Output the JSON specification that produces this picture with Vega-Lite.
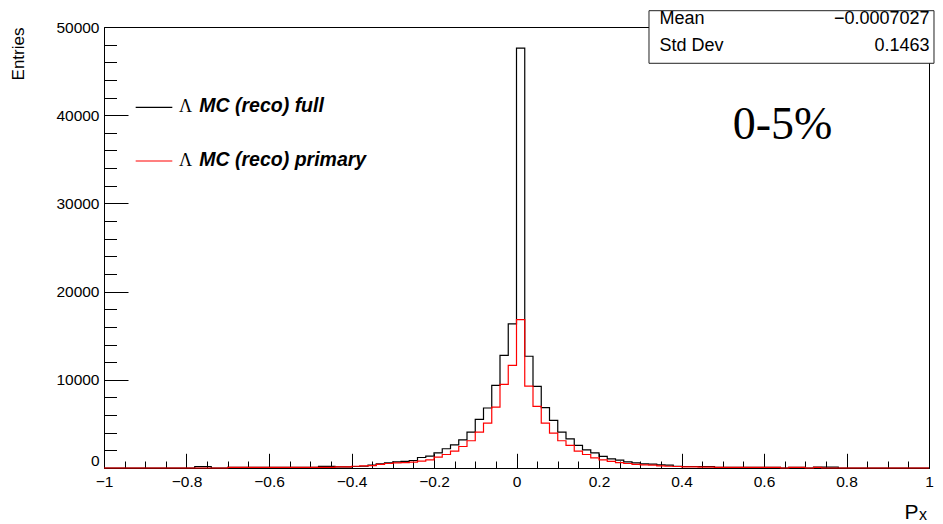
{
  "$schema": "https://vega.github.io/schema/vega-lite/v6.json",
  "width": 825,
  "height": 441,
  "autosize": {"type": "none"},
  "padding": {"left": 104, "top": 27, "right": 14, "bottom": 56},
  "background": "white",
  "config": {
    "view": {"stroke": "black", "strokeWidth": 1},
    "font": "Liberation Sans",
    "axis": {"labelFont": "Liberation Sans", "titleFont": "Liberation Sans", "labelColor": "black", "titleColor": "black", "grid": false, "tickColor": "black", "domainColor": "black", "titleFontWeight": "normal"}
  },
  "datasets": {
    "hist": [
      {"x": -1.00, "full": 0, "primary": 0},
      {"x": -0.98, "full": 0, "primary": 0},
      {"x": -0.96, "full": 0, "primary": 0},
      {"x": -0.94, "full": 0, "primary": 0},
      {"x": -0.92, "full": 0, "primary": 0},
      {"x": -0.90, "full": 0, "primary": 0},
      {"x": -0.88, "full": 0, "primary": 0},
      {"x": -0.86, "full": 0, "primary": 0},
      {"x": -0.84, "full": 0, "primary": 0},
      {"x": -0.82, "full": 0, "primary": 0},
      {"x": -0.80, "full": 0, "primary": 0},
      {"x": -0.78, "full": 150, "primary": 0},
      {"x": -0.76, "full": 150, "primary": 0},
      {"x": -0.74, "full": 0, "primary": 0},
      {"x": -0.72, "full": 0, "primary": 0},
      {"x": -0.70, "full": 80, "primary": 80},
      {"x": -0.68, "full": 80, "primary": 80},
      {"x": -0.66, "full": 80, "primary": 80},
      {"x": -0.64, "full": 80, "primary": 80},
      {"x": -0.62, "full": 80, "primary": 80},
      {"x": -0.60, "full": 80, "primary": 80},
      {"x": -0.58, "full": 80, "primary": 80},
      {"x": -0.56, "full": 80, "primary": 80},
      {"x": -0.54, "full": 80, "primary": 80},
      {"x": -0.52, "full": 80, "primary": 80},
      {"x": -0.50, "full": 80, "primary": 80},
      {"x": -0.48, "full": 180, "primary": 80},
      {"x": -0.46, "full": 180, "primary": 80},
      {"x": -0.44, "full": 130, "primary": 130},
      {"x": -0.42, "full": 130, "primary": 130},
      {"x": -0.40, "full": 170, "primary": 200},
      {"x": -0.38, "full": 200, "primary": 240},
      {"x": -0.36, "full": 320, "primary": 280},
      {"x": -0.34, "full": 470, "primary": 400},
      {"x": -0.32, "full": 590, "primary": 510},
      {"x": -0.30, "full": 700, "primary": 590},
      {"x": -0.28, "full": 740, "primary": 620},
      {"x": -0.26, "full": 850, "primary": 660},
      {"x": -0.24, "full": 1190, "primary": 780},
      {"x": -0.22, "full": 1350, "primary": 930},
      {"x": -0.20, "full": 1720, "primary": 1230},
      {"x": -0.18, "full": 2180, "primary": 1530},
      {"x": -0.16, "full": 2630, "primary": 1910},
      {"x": -0.14, "full": 3200, "primary": 2440},
      {"x": -0.12, "full": 4070, "primary": 3090},
      {"x": -0.10, "full": 5510, "primary": 4070},
      {"x": -0.08, "full": 6800, "primary": 5090},
      {"x": -0.06, "full": 9370, "primary": 6910},
      {"x": -0.04, "full": 12780, "primary": 9490},
      {"x": -0.02, "full": 16340, "primary": 11640},
      {"x": 0.00, "full": 47600, "primary": 16830},
      {"x": 0.02, "full": 12670, "primary": 9290},
      {"x": 0.04, "full": 9260, "primary": 6990},
      {"x": 0.06, "full": 6840, "primary": 5090},
      {"x": 0.08, "full": 5400, "primary": 3950},
      {"x": 0.10, "full": 4070, "primary": 3090},
      {"x": 0.12, "full": 3310, "primary": 2560},
      {"x": 0.14, "full": 2560, "primary": 1910},
      {"x": 0.16, "full": 2060, "primary": 1530},
      {"x": 0.18, "full": 1720, "primary": 1150},
      {"x": 0.20, "full": 1310, "primary": 930},
      {"x": 0.22, "full": 1040, "primary": 740},
      {"x": 0.24, "full": 890, "primary": 620},
      {"x": 0.26, "full": 700, "primary": 510},
      {"x": 0.28, "full": 590, "primary": 400},
      {"x": 0.30, "full": 470, "primary": 360},
      {"x": 0.32, "full": 430, "primary": 320},
      {"x": 0.34, "full": 360, "primary": 240},
      {"x": 0.36, "full": 320, "primary": 200},
      {"x": 0.38, "full": 200, "primary": 170},
      {"x": 0.40, "full": 170, "primary": 130},
      {"x": 0.42, "full": 170, "primary": 130},
      {"x": 0.44, "full": 170, "primary": 100},
      {"x": 0.46, "full": 170, "primary": 100},
      {"x": 0.48, "full": 80, "primary": 80},
      {"x": 0.50, "full": 80, "primary": 80},
      {"x": 0.52, "full": 80, "primary": 80},
      {"x": 0.54, "full": 80, "primary": 80},
      {"x": 0.56, "full": 80, "primary": 80},
      {"x": 0.58, "full": 80, "primary": 80},
      {"x": 0.60, "full": 80, "primary": 80},
      {"x": 0.62, "full": 80, "primary": 80},
      {"x": 0.64, "full": 0, "primary": 0},
      {"x": 0.66, "full": 80, "primary": 80},
      {"x": 0.68, "full": 80, "primary": 80},
      {"x": 0.70, "full": 0, "primary": 0},
      {"x": 0.72, "full": 100, "primary": 60},
      {"x": 0.74, "full": 100, "primary": 0},
      {"x": 0.76, "full": 100, "primary": 0},
      {"x": 0.78, "full": 0, "primary": 0},
      {"x": 0.80, "full": 0, "primary": 0},
      {"x": 0.82, "full": 0, "primary": 0},
      {"x": 0.84, "full": 0, "primary": 0},
      {"x": 0.86, "full": 0, "primary": 0},
      {"x": 0.88, "full": 0, "primary": 0},
      {"x": 0.90, "full": 0, "primary": 0},
      {"x": 0.92, "full": 0, "primary": 0},
      {"x": 0.94, "full": 0, "primary": 0},
      {"x": 0.96, "full": 0, "primary": 0},
      {"x": 0.98, "full": 0, "primary": 0},
      {"x": 1.00, "full": 0, "primary": 0}
    ]
  },
  "resolve": {"axis": {"x": "independent", "y": "independent"}},
  "layer": [
    {
      "data": {"name": "hist"},
      "mark": {"type": "line", "interpolate": "step-after", "color": "black", "strokeWidth": 1.2},
      "encoding": {
        "x": {"field": "x", "type": "quantitative", "scale": {"domain": [-1, 1], "nice": false, "zero": false},
          "axis": {"orient": "bottom", "values": [-1, -0.8, -0.6, -0.4, -0.2, 0, 0.2, 0.4, 0.6, 0.8, 1], "format": "~g", "ticks": false, "domain": true, "labelFontSize": 15.5, "labelPadding": 6, "labelFlush": false, "labelOverlap": false, "title": "P", "titleFontSize": 21, "titleX": 800, "titleY": 50, "titleAlign": "left", "titleBaseline": "alphabetic"}},
        "y": {"field": "full", "type": "quantitative", "scale": {"domain": [0, 50000], "nice": false, "zero": true},
          "axis": {"orient": "left", "values": [0, 10000, 20000, 30000, 40000, 50000], "format": "d", "ticks": false, "domain": true, "labelFontSize": 15.5, "labelPadding": 5, "labelOffset": {"condition": {"test": "datum.value == 0", "value": -8}, "value": 0}, "labelFlush": false, "labelOverlap": false, "title": "Entries", "titleFontSize": 17, "titleX": -86, "titleY": 0, "titleAngle": 270, "titleAlign": "right", "titleBaseline": "middle"}}
      }
    },
    {
      "data": {"name": "hist"},
      "mark": {"type": "line", "interpolate": "step-after", "color": "#ff0000", "strokeWidth": 1.2},
      "encoding": {
        "x": {"field": "x", "type": "quantitative", "scale": {"domain": [-1, 1], "nice": false, "zero": false},
          "axis": {"orient": "bottom", "values": [-1, -0.8, -0.6, -0.4, -0.2, 0, 0.2, 0.4, 0.6, 0.8, 1], "labels": false, "domain": false, "ticks": true, "tickSize": -14.7, "tickWidth": 1, "title": null}},
        "y": {"field": "primary", "type": "quantitative", "scale": {"domain": [0, 50000], "nice": false, "zero": true},
          "axis": {"orient": "left", "values": [0, 10000, 20000, 30000, 40000, 50000], "labels": false, "domain": false, "ticks": true, "tickSize": -24, "tickWidth": 1, "title": null}}
      }
    },
    {
      "data": {"name": "hist"},
      "mark": {"type": "line", "interpolate": "step-after", "opacity": 0},
      "encoding": {
        "x": {"field": "x", "type": "quantitative", "scale": {"domain": [-1, 1], "nice": false, "zero": false},
          "axis": {"orient": "bottom", "values": [-0.95, -0.9, -0.85, -0.75, -0.7, -0.65, -0.55, -0.5, -0.45, -0.35, -0.3, -0.25, -0.15, -0.1, -0.05, 0.05, 0.1, 0.15, 0.25, 0.3, 0.35, 0.45, 0.5, 0.55, 0.65, 0.7, 0.75, 0.85, 0.9, 0.95], "labels": false, "domain": false, "ticks": true, "tickSize": -7, "tickWidth": 1, "title": null}},
        "y": {"field": "primary", "type": "quantitative", "scale": {"domain": [0, 50000], "nice": false, "zero": true},
          "axis": {"orient": "left", "values": [2000, 4000, 6000, 8000, 12000, 14000, 16000, 18000, 22000, 24000, 26000, 28000, 32000, 34000, 36000, 38000, 42000, 44000, 46000, 48000], "labels": false, "domain": false, "ticks": true, "tickSize": -12.5, "tickWidth": 1, "title": null}}
      }
    },
    {
      "data": {"values": [{}]},
      "mark": {"type": "rect", "fill": "white", "stroke": "#222222", "strokeWidth": 1},
      "encoding": {
        "x": {"datum": 0.3212, "type": "quantitative", "axis": null},
        "x2": {"datum": 1.0121},
        "y": {"datum": 45885, "type": "quantitative", "axis": null},
        "y2": {"datum": 51849}
      }
    },
    {
      "data": {"values": [{}]},
      "mark": {"type": "text", "text": "Mean", "align": "left", "baseline": "alphabetic", "font": "Liberation Sans", "fontSize": 18, "color": "black"},
      "encoding": {"x": {"datum": 0.3467, "type": "quantitative", "axis": null}, "y": {"datum": 50341, "type": "quantitative", "axis": null}}
    },
    {
      "data": {"values": [{}]},
      "mark": {"type": "text", "text": "Std Dev", "align": "left", "baseline": "alphabetic", "font": "Liberation Sans", "fontSize": 18, "color": "black"},
      "encoding": {"x": {"datum": 0.3467, "type": "quantitative", "axis": null}, "y": {"datum": 47279, "type": "quantitative", "axis": null}}
    },
    {
      "data": {"values": [{}]},
      "mark": {"type": "text", "text": "−0.0007027", "align": "right", "baseline": "alphabetic", "font": "Liberation Sans", "fontSize": 18, "color": "black"},
      "encoding": {"x": {"datum": 1.0012, "type": "quantitative", "axis": null}, "y": {"datum": 50341, "type": "quantitative", "axis": null}}
    },
    {
      "data": {"values": [{}]},
      "mark": {"type": "text", "text": "0.1463", "align": "right", "baseline": "alphabetic", "font": "Liberation Sans", "fontSize": 18, "color": "black"},
      "encoding": {"x": {"datum": 1.0012, "type": "quantitative", "axis": null}, "y": {"datum": 47279, "type": "quantitative", "axis": null}}
    },
    {
      "data": {"values": [{}]},
      "mark": {"type": "text", "text": "0-5%", "align": "center", "baseline": "alphabetic", "font": "Liberation Serif", "fontSize": 46, "color": "black"},
      "encoding": {"x": {"datum": 0.6448, "type": "quantitative", "axis": null}, "y": {"datum": 37302, "type": "quantitative", "axis": null}}
    },
    {
      "data": {"values": [{}]},
      "mark": {"type": "rule", "color": "black", "strokeWidth": 1.2},
      "encoding": {"x": {"datum": -0.9232, "type": "quantitative", "axis": null}, "x2": {"datum": -0.8344}, "y": {"datum": 40896, "type": "quantitative", "axis": null}}
    },
    {
      "data": {"values": [{}]},
      "mark": {"type": "rule", "color": "#ff0000", "strokeWidth": 1.2},
      "encoding": {"x": {"datum": -0.9232, "type": "quantitative", "axis": null}, "x2": {"datum": -0.8344}, "y": {"datum": 34808, "type": "quantitative", "axis": null}}
    },
    {
      "data": {"values": [{}]},
      "mark": {"type": "text", "text": "Λ", "align": "left", "baseline": "alphabetic", "font": "Liberation Serif", "fontSize": 18, "color": "black"},
      "encoding": {"x": {"datum": -0.8182, "type": "quantitative", "axis": null}, "y": {"datum": 40398, "type": "quantitative", "axis": null}}
    },
    {
      "data": {"values": [{}]},
      "mark": {"type": "text", "text": "MC (reco) full", "align": "left", "baseline": "alphabetic", "font": "Liberation Sans", "fontSize": 19.5, "fontWeight": "bold", "fontStyle": "italic", "color": "black"},
      "encoding": {"x": {"datum": -0.769, "type": "quantitative", "axis": null}, "y": {"datum": 40398, "type": "quantitative", "axis": null}}
    },
    {
      "data": {"values": [{}]},
      "mark": {"type": "text", "text": "Λ", "align": "left", "baseline": "alphabetic", "font": "Liberation Serif", "fontSize": 18, "color": "black"},
      "encoding": {"x": {"datum": -0.8182, "type": "quantitative", "axis": null}, "y": {"datum": 34241, "type": "quantitative", "axis": null}}
    },
    {
      "data": {"values": [{}]},
      "mark": {"type": "text", "text": "MC (reco) primary", "align": "left", "baseline": "alphabetic", "font": "Liberation Sans", "fontSize": 19.5, "fontWeight": "bold", "fontStyle": "italic", "color": "black"},
      "encoding": {"x": {"datum": -0.769, "type": "quantitative", "axis": null}, "y": {"datum": 34241, "type": "quantitative", "axis": null}}
    },
    {
      "data": {"values": [{}]},
      "mark": {"type": "text", "text": "x", "align": "left", "baseline": "alphabetic", "font": "Liberation Sans", "fontSize": 16, "color": "black"},
      "encoding": {"x": {"datum": 0.9758, "type": "quantitative", "axis": null}, "y": {"datum": -5896, "type": "quantitative", "axis": null}}
    }
  ]
}
